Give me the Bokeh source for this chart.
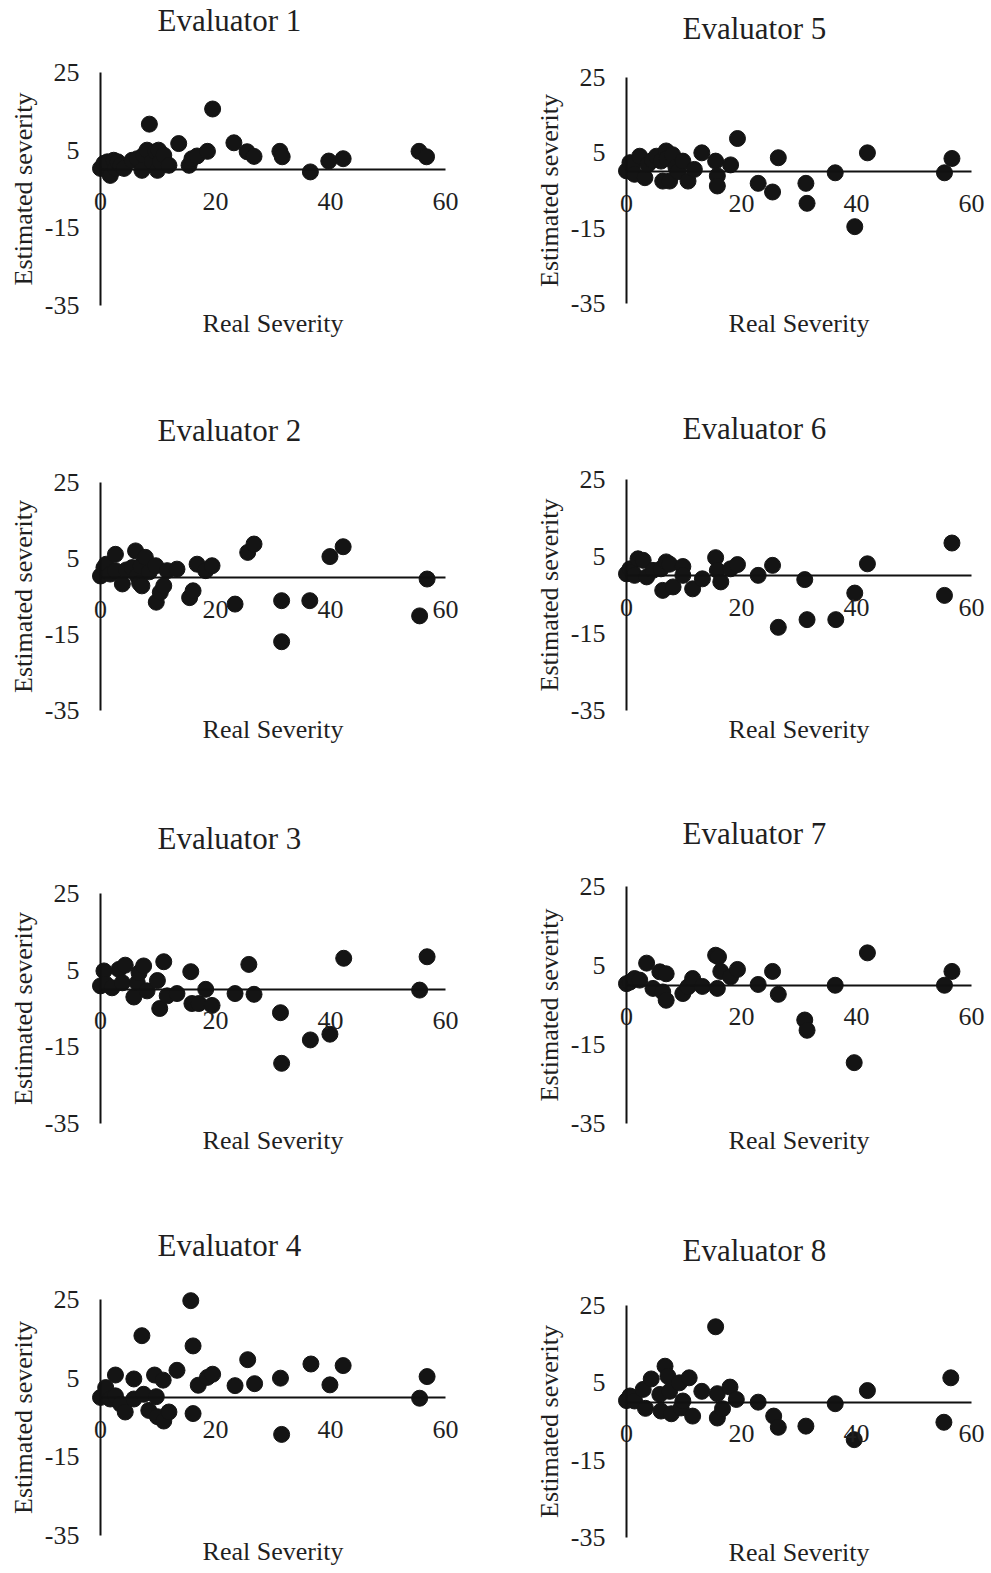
from bokeh.plotting import figure
from bokeh.models import Range1d, FixedTicker, Label
from bokeh.layouts import column, row
from bokeh.embed import file_html
from bokeh.resources import INLINE

# ---------------- data ----------------
x_ticks = [0, 20, 40, 60]
y_ticks = [-35, -15, 5, 25]
x_label = "Real Severity"
y_label = "Estimated severity"

ev1_x = [0, 0.6, 1.0, 1.2, 1.7, 2.3, 2.6, 3.0, 3.5, 4.1, 5.5, 6.4, 7.2, 7.5, 8.1, 8.5, 9.0, 9.6, 9.9, 10.1,
         10.4, 11.0, 11.9, 13.6, 15.4, 15.9, 16.8, 18.6, 19.5, 23.2, 25.5, 26.7, 31.2, 31.6, 36.5, 39.7,
         42.2, 55.4, 56.7]
ev1_y = [0.3, 1.6, 0.8, 2.0, -1.5, 2.4, 0.3, 2.0, 1.1, 0.3, 2.4, 2.8, -0.2, 3.7, 5.0, 11.7, 2.0, 4.6, -0.2, 5.0,
         2.0, 3.7, 1.1, 6.7, 1.1, 2.8, 3.5, 4.7, 15.6, 6.9, 4.6, 3.4, 4.7, 3.3, -0.6, 2.2,
         2.8, 4.7, 3.3]

ev2_x = [0, 0.6, 1.0, 1.7, 2.6, 2.6, 3.8, 4.5, 5.5, 6.1, 6.4, 6.8, 7.0, 7.2, 7.8, 8.5, 9.6, 9.7, 10.4, 11.0,
         11.6, 13.3, 15.5, 16.1, 16.8, 18.3, 19.4, 23.4, 25.6, 26.7, 31.5, 31.5, 36.4, 39.9, 42.2,
         55.5, 56.8]
ev2_y = [0.4, 2.6, 3.5, 0.9, 6.1, 1.8, -1.7, 2.0, 2.6, 7.0, 0.4, -1.5, 3.0, -2.2, 5.3, 1.5, 3.1, -6.5, -3.9, -2.2,
         1.8, 2.2, -5.3, -3.5, 3.5, 1.8, 3.1, -7.0, 6.6, 8.8, -6.1, -16.9, -6.1, 5.5, 8.1,
         -10.1, -0.4]

ev3_x = [0, 0.6, 0.9, 2.0, 3.2, 3.8, 4.3, 5.8, 6.4, 6.7, 7.5, 8.1, 9.9, 10.3, 11.0, 11.6, 13.3, 15.7, 15.9,
         17.1, 18.3, 19.4, 23.4, 25.8, 26.7, 31.3, 31.5, 36.5, 39.9, 42.3, 55.5, 56.8]
ev3_y = [0.9, 4.8, 1.4, 0.4, 5.2, 1.7, 6.3, -2.0, 1.7, 4.3, 6.1, -0.4, 2.3, -5.0, 7.2, -1.7, -1.1, 4.6, -3.7,
         -3.7, 0.0, -4.2, -1.1, 6.5, -1.3, -6.1, -19.3, -13.2, -11.7, 8.1, -0.2, 8.5]

ev4_x = [0, 0.9, 1.7, 2.6, 2.6, 3.5, 4.3, 5.8, 5.8, 7.2, 7.5, 8.4, 9.4, 9.7, 9.9, 10.9, 11.0, 11.9, 13.3,
         15.7, 16.1, 16.1, 17.0, 18.6, 19.5, 23.4, 25.6, 26.8, 31.3, 31.5, 36.6, 39.9, 42.2, 55.5, 56.8]
ev4_y = [0.1, 2.6, -0.3, 5.8, 0.5, -1.6, -3.6, 4.8, -0.3, 15.8, 0.9, -3.2, 5.8, 0.3, -4.8, 4.5, -5.9, -3.6, 7.0,
         24.7, 13.2, -4.0, 3.2, 5.2, 6.0, 3.1, 9.7, 3.6, 5.0, -9.3, 8.6, 3.3, 8.2, -0.1, 5.4]

ev5_x = [0, 0.6, 1.0, 1.4, 2.3, 3.2, 3.7, 4.5, 5.2, 6.0, 6.3, 6.9, 7.0, 7.5, 8.0, 8.6, 9.0, 9.8, 10.7, 11.8,
         13.1, 15.5, 15.8, 15.8, 18.1, 19.3, 22.9, 25.4, 26.4, 31.2, 31.4, 36.3, 39.7, 41.9, 55.3, 56.6]
ev5_y = [0.2, 2.4, 1.5, -0.7, 4.1, -1.6, 1.9, 3.0, 4.1, 2.8, -2.5, 5.5, 3.5, -2.5, 4.5, 1.1, 0.0, 2.8, -2.5, 0.6,
         5.0, 2.8, -1.1, -3.8, 1.8, 8.8, -3.1, -5.4, 3.7, -3.1, -8.4, -0.3, -14.6, 5.0, -0.3, 3.5]

ev6_x = [0, 0.6, 1.0, 1.4, 2.0, 2.9, 3.5, 4.6, 6.0, 6.3, 6.9, 7.5, 8.1, 9.8, 9.8, 11.5, 13.2, 15.5, 15.8, 16.4,
         18.1, 19.3, 22.9, 25.4, 26.4, 31.0, 31.4, 36.4, 39.7, 41.9, 55.3, 56.6]
ev6_y = [0.5, 1.8, 1.0, 0.1, 4.4, 4.0, -0.3, 1.4, 1.8, -3.8, 3.6, 3.0, -2.9, 2.4, 0.1, -3.4, -0.8, 4.7, 1.4, -1.6,
         1.8, 2.9, 0.1, 2.7, -13.4, -1.0, -11.4, -11.4, -4.5, 3.1, -5.1, 8.5]

ev7_x = [0, 0.6, 1.4, 2.3, 3.5, 4.6, 5.8, 6.3, 6.9, 6.9, 9.8, 10.7, 11.5, 13.2, 15.5, 15.8, 16.0, 16.4, 18.1,
         19.3, 22.9, 25.4, 26.4, 31.0, 31.4, 36.3, 39.6, 41.9, 55.3, 56.6]
ev7_y = [0.4, 0.8, 1.7, 1.3, 5.6, -0.8, 3.4, -1.7, 2.9, -3.8, -2.1, -0.4, 1.7, -0.3, 7.6, -0.8, 7.2, 3.5, 2.1,
         4.0, 0.2, 3.5, -2.3, -8.8, -11.4, 0.0, -19.6, 8.2, 0.0, 3.5]

ev8_x = [0, 0.6, 1.4, 2.9, 3.3, 4.3, 5.8, 6.0, 6.7, 7.2, 7.5, 7.8, 9.2, 9.5, 9.8, 10.9, 11.5, 13.1, 15.5, 15.8,
         15.8, 16.7, 18.0, 19.1, 22.9, 25.6, 26.4, 31.2, 36.3, 39.6, 41.9, 55.2, 56.4]
ev8_y = [0.4, 1.6, 0.3, 3.3, -1.6, 6.0, 2.0, -2.3, 9.3, 6.7, 2.8, -3.0, 5.0, -1.5, 0.3, 6.3, -3.6, 2.8, 19.5, 2.2,
         -4.1, -1.7, 3.9, 0.7, 0.0, -3.6, -6.5, -6.2, -0.4, -9.7, 3.0, -5.2, 6.3]

# ---------------- style / layout ----------------
FONT = "Liberation Serif"
TXT = "#1f1f1f"
DOT = "#141414"
AXIS_W = 345          # px spanned by x 0..60
SX = AXIS_W / 60.0


def panel(name, xs, ys, fig_left, fig_w, row_top, row_h, x0, axis_top, axis_bot,
          title_center, title_left, xlab_center):
    sy = (axis_bot - axis_top) / 60.0

    def dx(px):
        return (px - x0) / SX

    def dy(py):
        return 25 + (axis_top - py) / sy

    p = figure(width=fig_w, height=row_h, output_backend="svg", toolbar_location=None,
               x_range=Range1d(dx(fig_left), dx(fig_left + fig_w)),
               y_range=Range1d(dy(row_top + row_h), dy(row_top)),
               min_border=0, min_border_left=0, min_border_right=0,
               min_border_top=0, min_border_bottom=0, title=None)
    p.outline_line_color = None
    p.grid.visible = False
    p.background_fill_color = "white"
    p.border_fill_color = "white"

    for ax in (p.xaxis[0], p.yaxis[0]):
        ax.fixed_location = 0
        ax.major_tick_line_color = None
        ax.minor_tick_line_color = None
        ax.major_tick_out = 0
        ax.major_tick_in = 0
        ax.axis_line_color = "#111111"
        ax.axis_line_width = 2
        ax.major_label_text_font = FONT
        ax.major_label_text_font_size = "26px"
        ax.major_label_text_color = TXT

    xa = p.xaxis[0]
    xa.bounds = (0, 60)
    xa.ticker = FixedTicker(ticks=x_ticks)
    xa.major_label_overrides = {t: str(t) for t in x_ticks}
    xa.major_label_standoff = 23

    ya = p.yaxis[0]
    ya.bounds = (-35, 25)
    ya.ticker = FixedTicker(ticks=y_ticks)
    ya.major_label_overrides = {t: str(t) for t in y_ticks}
    ya.major_label_standoff = 21

    p.scatter(xs, ys, marker="circle", size=16, fill_color=DOT, line_color=DOT)

    p.add_layout(Label(x=dx(title_left), y=dy(title_center), text=name,
                       text_align="left", text_baseline="middle",
                       text_font=FONT, text_font_size="31px", text_color=TXT))
    p.add_layout(Label(x=30, y=dy(xlab_center), text=x_label,
                       text_align="center", text_baseline="middle",
                       text_font=FONT, text_font_size="26px", text_color=TXT))
    p.add_layout(Label(x=dx(x0 - 77), y=dy((axis_top + axis_bot) / 2.0), text=y_label,
                       angle=90, angle_units="deg",
                       text_align="center", text_baseline="middle",
                       text_font=FONT, text_font_size="26px", text_color=TXT))
    return p


LEFT = (0, 534, 100, 157)     # fig_left, fig_w, x of value 0, title left
RIGHT = (534, 457, 626, 682)
rows = [
    (0, 400, [("Evaluator 1", ev1_x, ev1_y, LEFT, 72, 305, 20, 323),
              ("Evaluator 5", ev5_x, ev5_y, RIGHT, 77, 303, 28, 323)]),
    (400, 410, [("Evaluator 2", ev2_x, ev2_y, LEFT, 482, 710, 430, 729),
                ("Evaluator 6", ev6_x, ev6_y, RIGHT, 479, 710, 428, 729)]),
    (810, 408, [("Evaluator 3", ev3_x, ev3_y, LEFT, 893, 1123, 838, 1140),
                ("Evaluator 7", ev7_x, ev7_y, RIGHT, 886, 1123, 833, 1140)]),
    (1218, 355, [("Evaluator 4", ev4_x, ev4_y, LEFT, 1299, 1535, 1245, 1551),
                 ("Evaluator 8", ev8_x, ev8_y, RIGHT, 1305, 1537, 1250, 1552)]),
]

layout_rows = []
for top, h, specs in rows:
    figs = []
    for name, xs, ys, col, at, ab, tc, xc in specs:
        fl, fw, x0, tl = col
        figs.append(panel(name, xs, ys, fl, fw, top, h, x0, at, ab, tc, tl, xc))
    layout_rows.append(row(*figs))

page = column(*layout_rows)
open("out.html", "w").write(file_html(page, INLINE))
